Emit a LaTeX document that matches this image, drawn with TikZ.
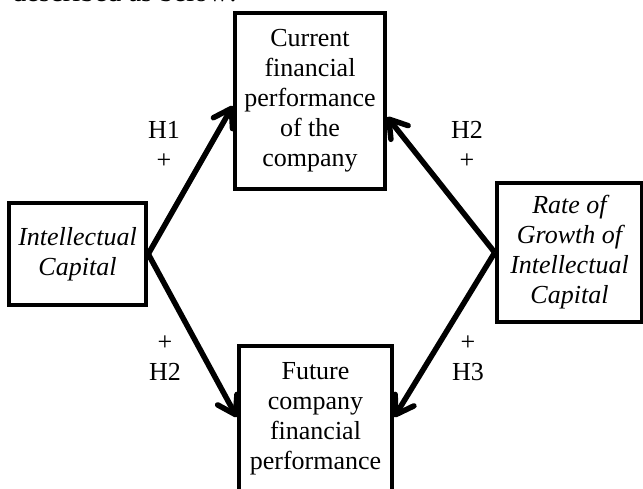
\documentclass[tikz,border=0pt]{standalone}
\usepackage{fontspec}
\setmainfont{Liberation Serif}
\usetikzlibrary{arrows.meta,positioning}
\tikzstyle{bigbox}=[draw, line width=4.5pt, inner sep=0pt, align=center, font=\fontsize{26}{30}\selectfont]
\tikzstyle{itbox}=[bigbox, font=\fontsize{26}{30}\selectfont\itshape]
\tikzstyle{invis}=[inner sep=2pt, align=center, font=\fontsize{26}{30}\selectfont]
\tikzstyle{hypArrow}=[line width=5.5pt, -{Straight Barb[length=17pt,width=22pt,round]}]

\begin{document}
\begin{tikzpicture}[x=1pt, y=1pt]
    \useasboundingbox (0,0) rectangle (643,-488);

    % text line above the figure
    \node[invis, anchor=base west, inner sep=0pt, font=\fontsize{28.5}{30}\selectfont] (intro) at (12,-1) {described as below:};

    % boxes
    \node[bigbox, minimum width=150pt, minimum height=176pt] (cur) at (310,-101) {Current\\financial\\performance\\of the\\company};
    \node[itbox, minimum width=137pt, minimum height=102pt] (ic) at (77.5,-254) {Intellectual\\Capital};
    \node[bigbox, minimum width=153pt, minimum height=146pt] (fut) at (315.5,-419) {Future\\company\\financial\\performance};
    \node[itbox, minimum width=145pt, minimum height=139pt] (rgic) at (569.5,-252.5) {Rate of\\Growth of\\Intellectual\\Capital};

    % hypotheses
    \node[invis] (h1) at (164,-145) {H1\\+};
    \node[invis] (h2top) at (467,-145) {H2\\+};
    \node[invis] (h2bot) at (165,-358) {+\\H2};
    \node[invis] (h3) at (468,-358) {+\\H3};

    % arrows
    \draw[hypArrow] (ic.east) -- ([yshift=-5pt]cur.west);
    \draw[hypArrow] (ic.east) -- ([yshift=2pt]fut.west);
    \draw[hypArrow] (rgic.west) -- ([yshift=-16pt]cur.east);
    \draw[hypArrow] (rgic.west) -- ([yshift=2pt]fut.east);
\end{tikzpicture}
\end{document}
